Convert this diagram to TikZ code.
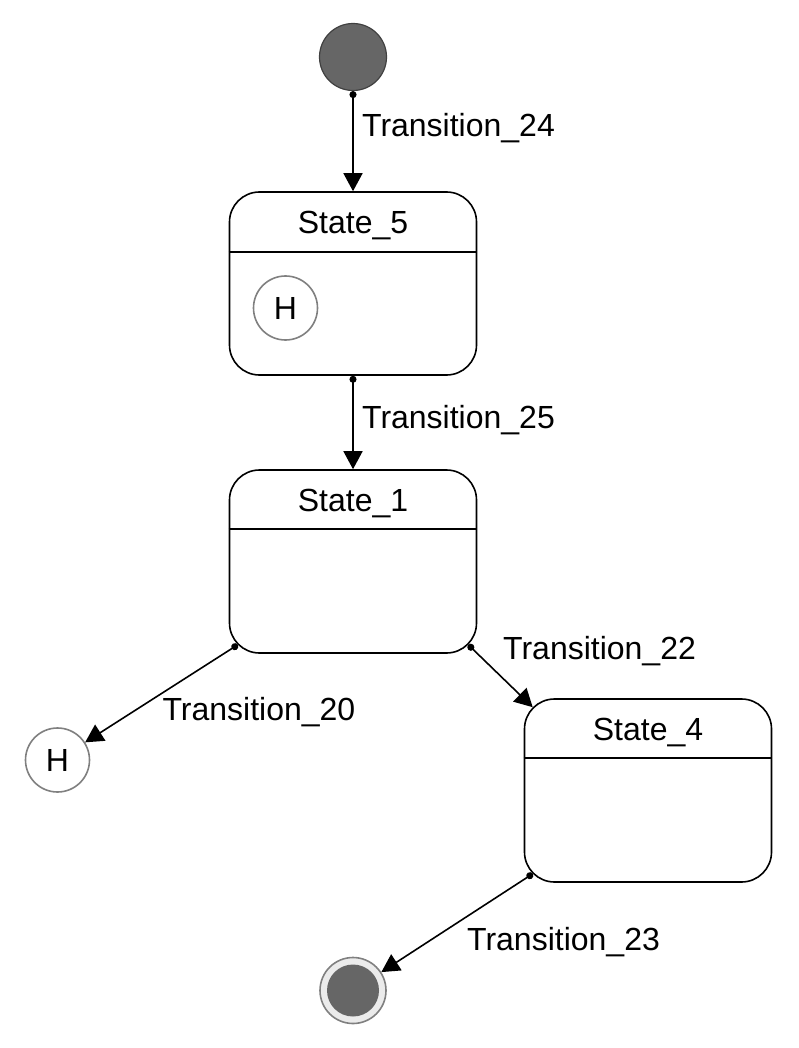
\documentclass[tikz,border=0pt]{standalone}
\usepackage{fontspec}
\setmainfont{Liberation Sans}
\usetikzlibrary{shapes,arrows.meta,positioning}
\tikzstyle{state} = [rectangle, draw, line width=1.6pt, rounded corners=30pt,
    minimum width=247pt, minimum height=183pt, inner sep=0pt]
\tikzstyle{startstate} = [circle, draw=black!75, line width=1.2pt, fill=black!60,
    minimum size=67pt, inner sep=0pt]
\tikzstyle{endstate} = [circle, draw=black!50, line width=1.6pt, fill=black!8,
    minimum size=66pt, inner sep=0pt,
    path picture={\fill[black!60] (path picture bounding box.center) circle (26pt);}]
\tikzstyle{history} = [circle, draw=black!50, line width=1.6pt, minimum size=64pt, inner sep=0pt]
\tikzstyle{line} = [draw, line width=1.6pt, {Circle[length=7pt]}-{Triangle[length=18pt,width=19pt]}]

\begin{document}
\begin{tikzpicture}[x=1pt, y=-1pt, node distance = 2cm, font=\fontsize{32}{37}\selectfont]
    \useasboundingbox (0,0) rectangle (798,1048);
    % Place nodes
    \node [startstate] (init) at (353,57) {};
    \node [state, below of=init, node distance=226.5pt] (s5) {};
    \node [state, below of=s5, node distance=278pt] (s1) {};
    \node [state, below of=s1, node distance=229pt, xshift=295pt] (s4) {};
    \node [history, below of=s1, node distance=198.5pt, xshift=-295.5pt] (h20) {H};
    \node [endstate, below of=s4, node distance=200pt, xshift=-295pt] (fin) {};
    \node [history] (h5) at ([xshift=-67.5pt, yshift=-24.5pt]s5.center) {H};
    % State titles
    \node (t5) at ([yshift=-34pt]s5.north) {State\_5};
    \node (t1) at ([yshift=-34pt]s1.north) {State\_1};
    \node (t4) at ([yshift=-34pt]s4.north) {State\_4};
    \draw [line width=1.6pt] ([yshift=-61pt]s5.north west) -- ([yshift=-61pt]s5.north east);
    \draw [line width=1.6pt] ([yshift=-60pt]s1.north west) -- ([yshift=-60pt]s1.north east);
    \draw [line width=1.6pt] ([yshift=-60pt]s4.north west) -- ([yshift=-60pt]s4.north east);
    % Draw edges
    \path [line] (init) -- node [pos=0.37, anchor=west, xshift=5pt] {Transition\_24} (s5);
    \path [line] (s5) -- node [pos=0.47, anchor=west, xshift=5pt] {Transition\_25} (s1);
    \path [line] ([xshift=9pt, yshift=9pt]s1.south west) -- node [anchor=north west, xshift=-3pt] {Transition\_20} (h20);
    \path [line] ([xshift=-9pt, yshift=9pt]s1.south east) -- node [anchor=south west, pos=0.4, xshift=5pt] {Transition\_22} ([xshift=9pt, yshift=-9pt]s4.north west);
    \path [line] ([xshift=9pt, yshift=9pt]s4.south west) -- node [anchor=north west, xshift=6pt] {Transition\_23} (fin);
\end{tikzpicture}
\end{document}
